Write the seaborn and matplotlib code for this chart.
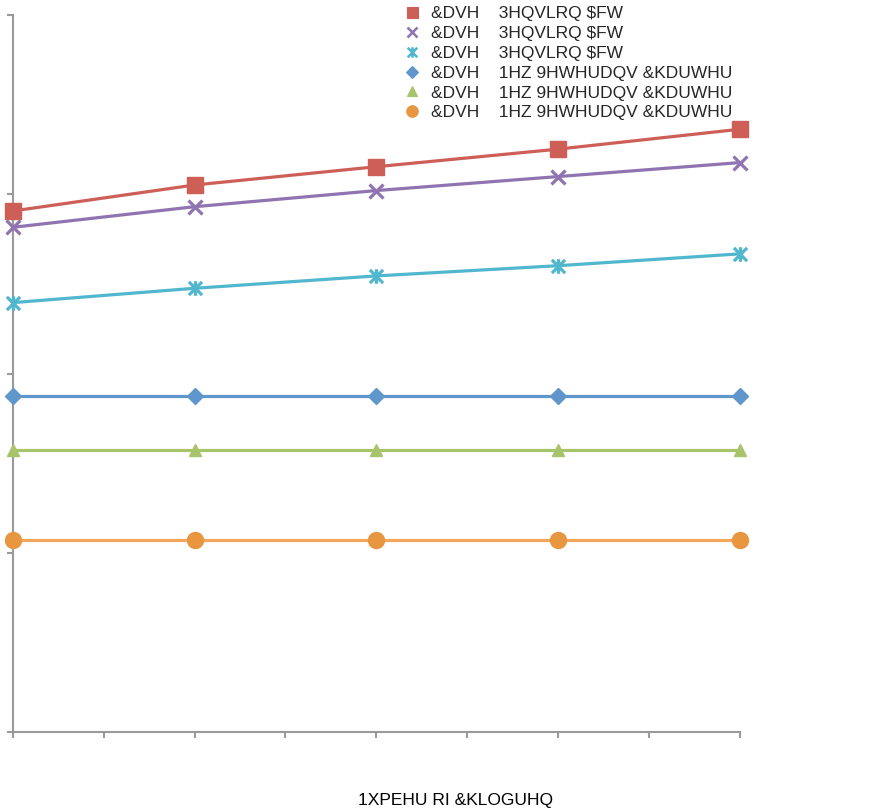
import numpy as np
import pandas as pd
import matplotlib
matplotlib.use("Agg")
import matplotlib.pyplot as plt
from matplotlib.path import Path
from matplotlib.lines import Line2D
import seaborn as sns

# ---- data ----
children = [0, 1, 2, 3, 4]
pension_red = [2.907, 3.052, 3.154, 3.252, 3.363]
pension_purple = [2.816, 2.931, 3.021, 3.099, 3.177]
pension_cyan = [2.396, 2.476, 2.545, 2.602, 2.668]
charter_blue = [1.877, 1.877, 1.877, 1.877, 1.877]
charter_green = [1.572, 1.572, 1.572, 1.572, 1.572]
charter_orange = [1.072, 1.072, 1.072, 1.072, 1.072]

labels = [
    "&DVH    3HQVLRQ $FW",
    "&DVH    3HQVLRQ $FW",
    "&DVH    3HQVLRQ $FW",
    "&DVH    1HZ 9HWHUDQV &KDUWHU",
    "&DVH    1HZ 9HWHUDQV &KDUWHU",
    "&DVH    1HZ 9HWHUDQV &KDUWHU",
]
x_label = "1XPEHU RI &KLOGUHQ"

sns.set_style("white")
plt.rcParams["font.family"] = ["Liberation Sans", "DejaVu Sans"]

star = Path(
    [(-0.5, -0.5), (0.5, 0.5), (-0.5, 0.5), (0.5, -0.5), (0, -0.55), (0, 0.55)],
    [Path.MOVETO, Path.LINETO, Path.MOVETO, Path.LINETO, Path.MOVETO, Path.LINETO],
)

series = [
    (pension_red, "#CD5F56", "#CD5F56", "s", 11, 1.0),
    (pension_purple, "#9074B2", "#9074B2", "x", 10, 2.3),
    (pension_cyan, "#51B7CF", "#51B7CF", star, 10.5, 2.3),
    (charter_blue, "#5F96CB", "#5F96CB", "D", 8.6, 1.0),
    (charter_green, "#A7C46B", "#A7C46B", "^", 9.2, 1.0),
    (charter_orange, "#F4A65B", "#E8963F", "o", 11.5, 1.0),
]

fig = plt.figure(figsize=(8.72, 8.11), dpi=100)
ax = fig.add_axes([12.7 / 872, 78.7 / 811, 727.3 / 872, 717.3 / 811])

for vals, lc, mc, mk, ms, mew in series:
    df = pd.DataFrame({"children": children, "value": vals})
    fill = "none" if mk in ("x",) or isinstance(mk, Path) else mc
    sns.lineplot(
        data=df, x="children", y="value", ax=ax, color=lc, linewidth=2.3,
        marker=mk, markersize=ms, markeredgewidth=mew, markerfacecolor=fill,
        markeredgecolor=mc, clip_on=False, zorder=3,
    )

ax.set_xlim(0, 4)
ax.set_ylim(0, 4)
ax.set_xticks(np.arange(0, 4.01, 0.5))
ax.set_yticks(np.arange(0, 4.01, 1))
ax.tick_params(axis="both", direction="out", length=4.5, width=1.5,
               color="#9A9A9A", labelbottom=False, labelleft=False,
               bottom=True, left=True)
for side in ("top", "right"):
    ax.spines[side].set_visible(False)
for side in ("left", "bottom"):
    ax.spines[side].set_color("#9A9A9A")
    ax.spines[side].set_linewidth(1.5)
ax.set_xlabel("")
ax.set_ylabel("")

handles = []
for vals, lc, mc, mk, ms, mew in series:
    fill = "none" if mk in ("x",) or isinstance(mk, Path) else mc
    handles.append(Line2D([], [], linestyle="none", marker=mk, color=mc,
                          markersize=ms * 0.72, markeredgewidth=mew * 0.8,
                          markerfacecolor=fill, markeredgecolor=mc))
fig.legend(handles=handles, labels=labels, loc="upper left",
           bbox_to_anchor=(404 / 872, 1 - 6 / 811), frameon=False,
           fontsize=12.5, handlelength=0.95, handletextpad=0.6,
           labelspacing=0.27, borderpad=0, borderaxespad=0)

fig.text(455 / 872, 1 - 800 / 811, x_label, ha="center", va="center",
         fontsize=12.5, color="black")

fig.savefig("out.png", dpi=100)
